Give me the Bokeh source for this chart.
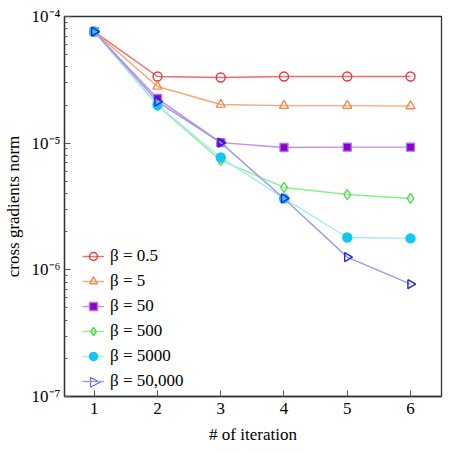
import numpy as np
from bokeh.plotting import figure
from bokeh.models import Range1d, FixedTicker, CustomJSTickFormatter, Legend, LegendItem, Label
from bokeh.embed import file_html
from bokeh.resources import INLINE

iterations = [1, 2, 3, 4, 5, 6]
labels = ["β = 0.5", "β = 5", "β = 50", "β = 500", "β = 5000", "β = 50,000"]
beta_05 = [7.6e-5, 3.36e-5, 3.3e-5, 3.36e-5, 3.36e-5, 3.36e-5]
beta_5 = [7.6e-5, 2.8e-5, 2.02e-5, 1.98e-5, 1.98e-5, 1.96e-5]
beta_50 = [7.6e-5, 2.25e-5, 1.01e-5, 9.25e-6, 9.3e-6, 9.3e-6]
beta_500 = [7.6e-5, 1.98e-5, 7.3e-6, 4.47e-6, 3.93e-6, 3.66e-6]
beta_5000 = [7.6e-5, 2.0e-5, 7.7e-6, 3.66e-6, 1.80e-6, 1.77e-6]
beta_50000 = [7.6e-5, 2.13e-5, 1.01e-5, 3.66e-6, 1.26e-6, 7.7e-7]
y_ticks = [1e-7, 1e-6, 1e-5, 1e-4]

FONT = "Liberation Serif"

p = figure(width=451, height=453, output_backend="svg", toolbar_location=None,
           y_axis_type="log", x_range=Range1d(0.53, 6.49), y_range=Range1d(1e-7, 1e-4),
           min_border_left=62, min_border_right=10, min_border_top=16, min_border_bottom=57)
p.background_fill_color = "white"
p.border_fill_color = "white"
p.outline_line_color = "#333333"
p.outline_line_width = 1.3
p.xgrid.visible = False
p.ygrid.visible = False

minor = [m * 10.0 ** k for k in range(-7, -4) for m in range(2, 10)]
p.yaxis.ticker = FixedTicker(ticks=y_ticks, minor_ticks=minor)
p.yaxis.formatter = CustomJSTickFormatter(code="""
const e = Math.round(Math.log10(tick));
const sup = {'-':'\u207b','0':'\u2070','1':'\u00b9','2':'\u00b2','3':'\u00b3','4':'\u2074','5':'\u2075','6':'\u2076','7':'\u2077','8':'\u2078','9':'\u2079'};
return '10' + String(e).split('').map(c => sup[c]).join('');
""")
p.xaxis.ticker = FixedTicker(ticks=iterations, minor_ticks=[])

for ax in [p.xaxis[0], p.yaxis[0]]:
    ax.major_tick_in = 6
    ax.major_tick_out = 0
    ax.minor_tick_in = 3
    ax.minor_tick_out = 0
    ax.axis_line_color = "#333333"
    ax.axis_line_width = 1.3
    ax.major_tick_line_color = "#555555"
    ax.minor_tick_line_color = "#555555"
    ax.major_label_text_font = FONT
    ax.major_label_text_font_size = "17px"
    ax.major_label_text_color = "black"
    ax.axis_label_text_font = FONT
    ax.axis_label_text_font_size = "17px"
    ax.axis_label_text_font_style = "normal"
    ax.axis_label_text_color = "black"

p.xaxis.axis_label = "# of iteration"
p.yaxis.axis_label = "cross gradients norm"
p.xaxis.major_label_standoff = 6
p.xaxis.axis_label_standoff = 8
p.yaxis.major_label_standoff = 4
p.yaxis.axis_label_standoff = 6

series = [
    (beta_05, "#f26a6a", "circle", "#e83a3a", None, 0.0),
    (beta_5, "#f5a878", "triangle", "#f08a50", None, 0.0),
    (beta_50, "#c48af2", "square", "#b070e8", "#8a00c8", 0.0),
    (beta_500, "#8af08a", "diamond", "#50d850", None, 0.0),
    (beta_5000, "#a8e8f8", "circle", "#10c8f0", "#10c8f0", 0.0),
    (beta_50000, "#9a9ae8", "triangle", "#2424e0", None, -np.pi / 2),
]
sizes = {"circle": 9, "triangle": 9, "square": 8, "diamond": 10}

items = []
for (vals, lc, mk, mc, fc, ang), lab in zip(series, labels):
    r1 = p.line(iterations, vals, line_color=lc, line_width=1.4)
    r2 = p.scatter(iterations, vals, marker=mk, size=sizes[mk], angle=ang,
                   line_color=mc, line_width=1.4,
                   fill_color=fc if fc else "white", fill_alpha=1.0 if fc else 0.0)
    # legend glyphs cannot be rotated: the right-pointing triangle is added as a label
    items.append(LegendItem(label=lab, renderers=[r1] if ang else [r1, r2]))

legend = Legend(items=items, location=(18, 5))
legend.border_line_color = None
legend.background_fill_alpha = 0.0
legend.label_text_font = FONT
legend.label_text_font_size = "17px"
legend.label_text_color = "black"
legend.glyph_width = 22
legend.glyph_height = 20
legend.spacing = 5
legend.label_standoff = 6
legend.padding = 6
legend.margin = 0
p.add_layout(legend, "center")

tri = Label(x=31, y=16, x_units="screen", y_units="screen", text="\u25b7",
            text_color="#2424e0", text_font="DejaVu Sans",
            text_font_size="14px", text_align="center", text_baseline="middle")
p.add_layout(tri)

open("out.html", "w").write(file_html(p, INLINE))
